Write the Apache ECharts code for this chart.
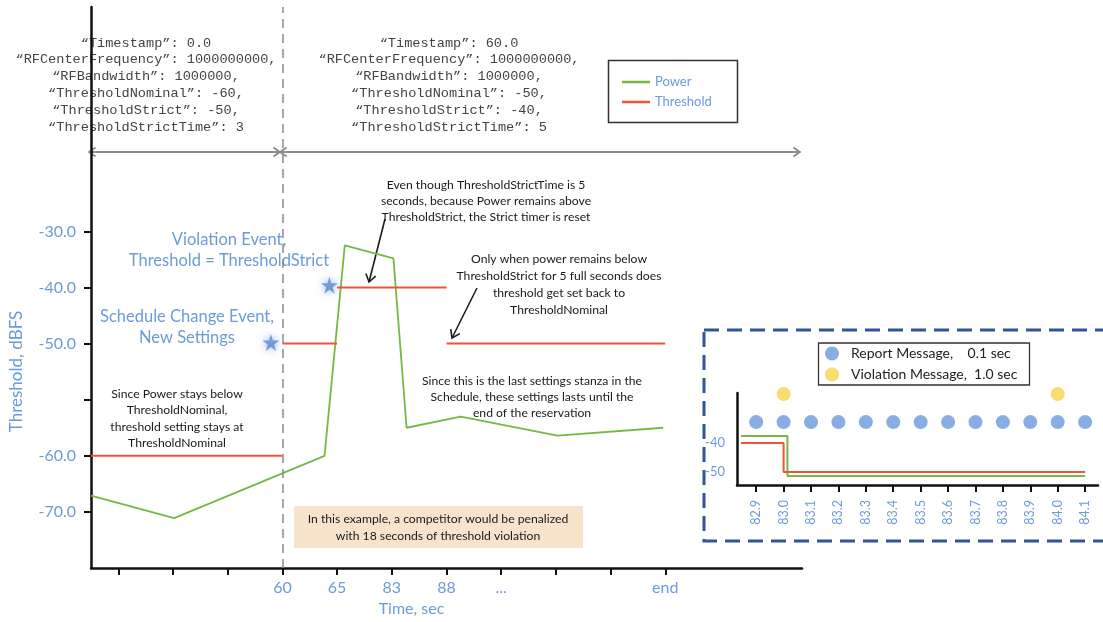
<!DOCTYPE html>
<html><head><meta charset="utf-8">
<script src="https://cdn.jsdelivr.net/npm/echarts@6/dist/echarts.min.js"></script>
<style>html,body{margin:0;padding:0;background:#fff}#c{width:1103px;height:622px}</style>
</head><body><div id="c"></div><script>
// ---------- main chart data (x = layout slot along the time axis, y = dBFS) ----------
const xSlotLabels = ['', '', '', '60', '65', '83', '88', '...', '', '', 'end'];
const xTickSlots = [0, 1, 2, 3, 4, 5, 6, 7, 8, 9, 10];
const xLabelSlots = [3, 4, 5, 6, 7, 10];
const yTickLabels = ['-70.0', '-60.0', '', '-50.0', '-40.0', '-30.0'];
const yTickDb = [-70, -60, null, -50, -40, -30];
const powerSlot = [-0.5, 1.02, 3.77, 4.14, 5.03, 5.27, 6.26, 8.03, 9.96];
const powerDb = [-67.1, -71.1, -60, -32.5, -34.8, -57.5, -56.5, -58.2, -57.5];
const thresholdStart = [-0.5, 3, 4, 6];
const thresholdEnd = [3, 4, 6, 10];
const thresholdDb = [-60, -50, -40, -50];
const eventSlot = [2.79, 3.86];
const eventDb = [-49.8, -39.6];
const scheduleChangeSlot = 3;

// ---------- inset data (x = seconds) ----------
const reportTimes = [82.9, 83.0, 83.1, 83.2, 83.3, 83.4, 83.5, 83.6, 83.7, 83.8, 83.9, 84.0, 84.1];
const reportRow = -32.8;
const violationTimes = [83.0, 84.0];
const violationRow = -23.1;
const insetPowerTime = [82.845, 83.014, 83.014, 84.1];
const insetPowerDb = [-37.6, -37.6, -51.4, -51.4];
const insetThresholdTime = [82.845, 83.0, 83.0, 84.1];
const insetThresholdDb = [-40, -40, -50, -50];
const insetYLabels = [-40, -50];

const settingsA = ['\u201cTimestamp\u201d: 0.0', '\u201cRFCenterFrequency\u201d: 1000000000,', '\u201cRFBandwidth\u201d: 1000000,', '\u201cThresholdNominal\u201d: -60,', '\u201cThresholdStrict\u201d: -50,', '\u201cThresholdStrictTime\u201d: 3'];
const settingsB = ['\u201cTimestamp\u201d: 60.0', '\u201cRFCenterFrequency\u201d: 1000000000,', '\u201cRFBandwidth\u201d: 1000000,', '\u201cThresholdNominal\u201d: -50,', '\u201cThresholdStrict\u201d: -40,', '\u201cThresholdStrictTime\u201d: 5'];

// broken y axis: map dBFS to tick rank through the labelled ticks
function dbToRank(v) {
  const pts = yTickDb.map((d, i) => [d, i]).filter(p => p[0] !== null);
  let a = pts[0], b = pts[1];
  for (let k = 0; k < pts.length - 1; k++) { if (v >= pts[k][0]) { a = pts[k]; b = pts[k + 1]; } }
  return a[1] + (v - a[0]) * (b[1] - a[1]) / (b[0] - a[0]);
}

const BLUE = '#6b9bdc', GREEN = '#77b843', RED = '#f0533a', NAVY = '#2f5597';
const SANS = 'Lato', MONO = '"Liberation Mono"';
const STAR = 'path://M50,0 L61.2,34.5 L97.6,34.5 L68.2,55.9 L79.4,90.5 L50,69.1 L20.6,90.5 L31.8,55.9 L2.4,34.5 L38.8,34.5 Z';

function arrow(x1, y1, x2, y2, color, w, head) {
  const ang = Math.atan2(y2 - y1, x2 - x1), d = Math.PI - 0.6;
  return [
    {type: 'line', silent: true, shape: {x1, y1, x2, y2}, style: {stroke: color, lineWidth: w}},
    {type: 'polyline', silent: true, shape: {points: [[x2 + head * Math.cos(ang + d), y2 + head * Math.sin(ang + d)], [x2, y2], [x2 + head * Math.cos(ang - d), y2 + head * Math.sin(ang - d)]]}, style: {stroke: color, lineWidth: w, fill: null}}
  ];
}
function txt(x, y, text, size, color, lh, font) {
  return {type: 'text', silent: true, x, y, style: {text, fill: color, font: size + 'px ' + (font || SANS), align: 'center', verticalAlign: 'middle', lineHeight: lh}};
}

const series = [];
series.push({
  name: 'Power', type: 'line', xAxisIndex: 0, yAxisIndex: 0, symbol: 'none',
  lineStyle: {color: GREEN, width: 1.8}, itemStyle: {color: GREEN},
  data: powerSlot.map((x, i) => [x, dbToRank(powerDb[i])]),
  markLine: {silent: true, symbol: 'none', label: {show: false},
    lineStyle: {color: '#8a8a8a', width: 1.5, type: [9, 6]}, data: [{xAxis: scheduleChangeSlot}]}
});
thresholdDb.forEach((v, i) => series.push({
  name: 'Threshold', type: 'line', xAxisIndex: 0, yAxisIndex: 0, symbol: 'none',
  lineStyle: {color: RED, width: 2}, itemStyle: {color: RED},
  data: [[thresholdStart[i], dbToRank(v)], [thresholdEnd[i], dbToRank(v)]]
}));
series.push({
  name: 'Events', type: 'scatter', xAxisIndex: 0, yAxisIndex: 0, symbol: STAR, symbolSize: 17,
  itemStyle: {color: '#5b8bd6', shadowBlur: 8, shadowColor: 'rgba(60,110,200,0.7)'},
  data: eventSlot.map((x, i) => [x, dbToRank(eventDb[i])])
});
series.push({
  name: 'Power', type: 'line', xAxisIndex: 1, yAxisIndex: 1, symbol: 'none',
  lineStyle: {color: GREEN, width: 2}, itemStyle: {color: GREEN},
  data: insetPowerTime.map((t, i) => [t, insetPowerDb[i]])
});
series.push({
  name: 'Threshold', type: 'line', xAxisIndex: 1, yAxisIndex: 1, symbol: 'none',
  lineStyle: {color: RED, width: 2}, itemStyle: {color: RED},
  data: insetThresholdTime.map((t, i) => [t, insetThresholdDb[i]])
});
series.push({
  name: 'Report Message,    0.1 sec', type: 'scatter', xAxisIndex: 1, yAxisIndex: 1, clip: false,
  symbol: 'circle', symbolSize: 14, itemStyle: {color: '#6a98dc'},
  data: reportTimes.map(t => [t, reportRow])
});
series.push({
  name: 'Violation Message,  1.0 sec', type: 'scatter', xAxisIndex: 1, yAxisIndex: 1, clip: false,
  symbol: 'circle', symbolSize: 14, itemStyle: {color: '#f6d44c'},
  data: violationTimes.map(t => [t, violationRow])
});

const graphic = [];
// settings blocks
graphic.push(txt(146, 85, settingsA.join('\n'), 13.6, '#444', 16.8, MONO));
graphic.push(txt(449, 85, settingsB.join('\n'), 13.6, '#444', 16.8, MONO));
// top span arrows
const G = '#8c8c8c';
graphic.push(...arrow(280, 152, 89, 152, G, 1.8, 8), ...arrow(89, 152, 280, 152, G, 1.8, 8));
graphic.push(...arrow(800, 152, 280, 152, G, 1.8, 8), ...arrow(280, 152, 800, 152, G, 1.8, 8));
// legend box (main)
graphic.push({type: 'rect', silent: true, shape: {x: 608.5, y: 60.5, width: 129, height: 62}, style: {fill: null, stroke: '#333', lineWidth: 1.5}});
// blue event annotations
graphic.push(txt(229, 250, 'Violation Event,\nThreshold = ThresholdStrict', 16.5, BLUE, 21.5));
graphic.push(txt(187, 327, 'Schedule Change Event,\nNew Settings', 16.5, BLUE, 21));
// black annotations
const K = '#1a1a1a';
graphic.push(txt(486, 201, 'Even though ThresholdStrictTime is 5\nseconds, because Power remains above\nThresholdStrict, the Strict timer is reset', 12.2, K, 16));
graphic.push(...arrow(385, 219, 369, 282, K, 1.6, 9));
graphic.push(txt(559, 284.5, 'Only when power remains below\nThresholdStrict for 5 full seconds does\nthreshold get set back to\nThresholdNominal', 12.2, K, 17));
graphic.push(...arrow(477, 288, 452, 338, K, 1.6, 9));
graphic.push(txt(177, 418.5, 'Since Power stays below\nThresholdNominal,\nthreshold setting stays at\nThresholdNominal', 12.2, K, 16.5));
graphic.push(txt(532, 397, 'Since this is the last settings stanza in the\nSchedule, these settings lasts until the\nend of the reservation', 12.2, K, 16));
// penalty box
graphic.push({type: 'rect', silent: true, shape: {x: 294, y: 506, width: 289, height: 42}, style: {fill: '#f8e3cd'}});
graphic.push(txt(438, 527.5, 'In this example, a competitor would be penalized\nwith 18 seconds of threshold violation', 12.2, K, 16.5));
// inset frame and legend box
graphic.push({type: 'rect', silent: true, shape: {x: 704, y: 330, width: 430, height: 211}, style: {fill: null, stroke: NAVY, lineWidth: 3, lineDash: [15, 8]}});
graphic.push({type: 'rect', silent: true, shape: {x: 818.5, y: 343, width: 211, height: 42}, style: {fill: null, stroke: '#333', lineWidth: 1.3}});

const axisBlack = {onZero: false, lineStyle: {color: '#111', width: 2.5}};
const option = {
  animation: false,
  backgroundColor: '#fff',
  textStyle: {fontFamily: SANS},
  grid: [
    {left: 87, right: 301, top: 7, bottom: 53},
    {left: 737, right: 5, top: 393, bottom: 137}
  ],
  legend: [
    {data: ['Power', 'Threshold'], left: 622, top: 72, orient: 'vertical', padding: 0, itemGap: 0,
      icon: 'rect', itemWidth: 28, itemHeight: 2.5,
      textStyle: {color: BLUE, fontSize: 13, lineHeight: 20, fontFamily: SANS}},
    {data: ['Report Message,    0.1 sec', 'Violation Message,  1.0 sec'], left: 825, top: 343, orient: 'vertical',
      padding: 0, itemGap: 0, icon: 'circle', itemWidth: 14, itemHeight: 14,
      textStyle: {color: '#222', fontSize: 14, lineHeight: 21, fontFamily: SANS, padding: [0, 0, 0, 7]}}
  ],
  xAxis: [
    {gridIndex: 0, type: 'value', min: -0.5, max: 12.5, axisLine: axisBlack, splitLine: {show: false},
      axisTick: {customValues: xTickSlots, length: 7, lineStyle: {color: '#111', width: 2}},
      axisLabel: {customValues: xLabelSlots, formatter: v => xSlotLabels[Math.round(v)], color: BLUE, fontSize: 16, margin: 12, fontFamily: SANS},
      name: 'Time, sec', nameLocation: 'middle', nameGap: 33,
      nameTextStyle: {color: BLUE, fontSize: 16, fontFamily: SANS, padding: [0, 70, 0, 0]}},
    {gridIndex: 1, type: 'value', min: 82.83, max: 84.147, axisLine: axisBlack, splitLine: {show: false},
      axisTick: {customValues: reportTimes, length: 7, lineStyle: {color: '#111', width: 2}},
      axisLabel: {customValues: reportTimes, rotate: 90, formatter: v => v.toFixed(1), color: BLUE, fontSize: 12.5, margin: 15, fontFamily: SANS}}
  ],
  yAxis: [
    {gridIndex: 0, type: 'value', min: -1, max: 9, axisLine: axisBlack, splitLine: {show: false},
      axisTick: {customValues: [0, 1, 2, 3, 4, 5], length: 7, lineStyle: {color: '#111', width: 2}},
      axisLabel: {customValues: [0, 1, 3, 4, 5], formatter: v => yTickLabels[Math.round(v)], color: BLUE, fontSize: 16, margin: 15, fontFamily: SANS},
      name: 'Threshold, dBFS', nameLocation: 'middle', nameGap: 66,
      nameTextStyle: {color: BLUE, fontSize: 17, fontFamily: SANS, padding: [0, 168, 0, 0]}},
    {gridIndex: 1, type: 'value', min: -54.5, max: -22.75, axisLine: axisBlack, splitLine: {show: false},
      axisTick: {show: false},
      axisLabel: {customValues: insetYLabels, color: BLUE, fontSize: 13, margin: 12, fontFamily: SANS}}
  ],
  series,
  graphic
};
echarts.init(document.getElementById('c')).setOption(option);
</script></body></html>
